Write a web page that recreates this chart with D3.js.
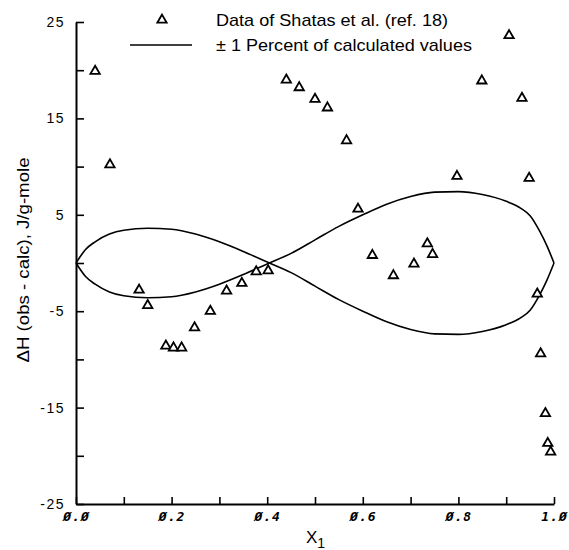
<!DOCTYPE html>
<html>
<head>
<meta charset="utf-8">
<script src="https://cdn.jsdelivr.net/npm/d3@7"></script>
<style>
  body { margin: 0; background: #fff; }
  svg { display: block; }
  .lbl { font-family: "Liberation Sans Narrow", "Liberation Sans", Arial, sans-serif; fill: #000; }
</style>
</head>
<body>
<div id="chart"></div>
<script>
// deviations of Shatas et al. data (x1, dH obs - calc)
var dataX = [0.040, 0.071, 0.132, 0.150, 0.188, 0.204, 0.221, 0.248, 0.281, 0.315,
             0.347, 0.377, 0.402, 0.440, 0.467, 0.500, 0.526, 0.566, 0.590, 0.620,
             0.664, 0.707, 0.735, 0.746, 0.797, 0.849, 0.906, 0.933, 0.948, 0.965,
             0.972, 0.982, 0.987, 0.993];
var dataY = [19.9, 10.2, -2.8, -4.4, -8.6, -8.8, -8.8, -6.7, -5.0, -2.9,
             -2.1, -0.9, -0.8, 19.0, 18.2, 17.0, 16.1, 12.7, 5.6, 0.8,
             -1.3, -0.1, 2.0, 0.9, 9.0, 18.9, 23.6, 17.1, 8.8, -3.2,
             -9.4, -15.6, -18.7, -19.6];

// 1 percent of calculated values
var curveX = [0, 0.02, 0.04, 0.07, 0.10, 0.15, 0.20, 0.25, 0.30, 0.35, 0.40, 0.45,
              0.50, 0.55, 0.60, 0.65, 0.70, 0.75, 0.80, 0.85, 0.90, 0.93, 0.95,
              0.97, 0.985, 1.0];
var curveY = [0, 1.4, 2.2, 3.0, 3.4, 3.6, 3.5, 3.0, 2.2, 1.2, 0.1, -1.0,
              -2.4, -3.8, -5.0, -6.1, -6.9, -7.35, -7.4, -7.1, -6.4, -5.7, -4.9,
              -3.3, -1.8, 0];

var xTicks = [0, 0.1, 0.2, 0.3, 0.4, 0.5, 0.6, 0.7, 0.8, 0.9, 1.0];
var xTickLabels = {"0": "Ø.Ø", "0.2": "Ø.2", "0.4": "Ø.4", "0.6": "Ø.6", "0.8": "Ø.8", "1": "1.Ø"};
var yTicks = [-25, -20, -15, -10, -5, 0, 5, 10, 15, 20, 25];
var yTickLabels = {"25": "25", "15": "15", "5": "5", "-5": "-5", "-15": "-15", "-25": "-25"};

var width = 569, height = 550;
var margin = {top: 22, right: 15, bottom: 46, left: 76};

var svg = d3.select("#chart").append("svg")
    .attr("width", width)
    .attr("height", height);

var x = d3.scaleLinear().domain([0, 1]).range([margin.left, width - margin.right]);
var y = d3.scaleLinear().domain([-25, 25]).range([height - margin.bottom, margin.top]);

// axes, ticks pointing inward
var xAxis = d3.axisBottom(x)
    .tickValues(xTicks)
    .tickSizeInner(-7)
    .tickSizeOuter(0)
    .tickPadding(8)
    .tickFormat(function(d) { return xTickLabels[String(+d.toFixed(1))] || ""; });

var yAxis = d3.axisLeft(y)
    .tickValues(yTicks)
    .tickSizeInner(-8)
    .tickSizeOuter(0)
    .tickPadding(11)
    .tickFormat(function(d) { return yTickLabels[String(d)] || ""; });

var gx = svg.append("g")
    .attr("transform", "translate(0," + y(-25) + ")")
    .call(xAxis);
gx.select(".domain").attr("stroke-width", 2);
gx.selectAll(".tick line").attr("stroke-width", 1.6);
gx.selectAll("text")
    .style("font-family", "'DejaVu Sans Mono', monospace")
    .style("font-weight", "bold")
    .style("font-style", "italic")
    .style("font-size", "13px")
    .style("letter-spacing", "1px")
    .attr("fill", "#000");

var gy = svg.append("g")
    .attr("transform", "translate(" + x(0) + ",0)")
    .call(yAxis);
gy.select(".domain").attr("stroke-width", 2);
gy.selectAll(".tick line").attr("stroke-width", 1.6);
gy.selectAll("text")
    .attr("class", "lbl")
    .style("font-size", "14px")
    .style("letter-spacing", "1.5px")
    .attr("fill", "#000");

// axis titles
var xt = svg.append("text")
    .attr("class", "lbl")
    .attr("x", 306)
    .attr("y", 543)
    .style("font-size", "17px");
xt.append("tspan").text("X");
xt.append("tspan").attr("dy", 5).style("font-size", "14px").text("1");

svg.append("text")
    .attr("class", "lbl")
    .attr("transform", "translate(23,260) rotate(-90)")
    .attr("text-anchor", "middle")
    .attr("dy", "0.35em")
    .attr("textLength", 205)
    .attr("lengthAdjust", "spacingAndGlyphs")
    .style("font-size", "16px")
    .text("ΔH (obs - calc), J/g-mole");

// +/- 1 percent curves
var curve = curveX.map(function(d, i) { return [d, curveY[i]]; });
var line = d3.line()
    .x(function(d) { return x(d[0]); })
    .y(function(d) { return y(d[1]); })
    .curve(d3.curveMonotoneX);

svg.append("path")
    .attr("d", line(curve))
    .attr("fill", "none").attr("stroke", "#000").attr("stroke-width", 1.6);
svg.append("path")
    .attr("d", line(curve.map(function(d) { return [d[0], -d[1]]; })))
    .attr("fill", "none").attr("stroke", "#000").attr("stroke-width", 1.6);

// triangles
var tri = d3.symbol().type(d3.symbolTriangle).size(38);
svg.selectAll(".pt")
    .data(dataX.map(function(d, i) { return [d, dataY[i]]; }))
    .enter().append("path")
    .attr("class", "pt")
    .attr("d", tri)
    .attr("transform", function(d) { return "translate(" + x(d[0]) + "," + y(d[1]) + ")"; })
    .attr("fill", "#fff")
    .attr("stroke", "#000")
    .attr("stroke-width", 1.8);

// legend
svg.append("path")
    .attr("d", tri)
    .attr("transform", "translate(162,20)")
    .attr("fill", "#fff").attr("stroke", "#000").attr("stroke-width", 1.8);
svg.append("line")
    .attr("x1", 130).attr("x2", 192)
    .attr("y1", 45).attr("y2", 45)
    .attr("stroke", "#000").attr("stroke-width", 1.6);
svg.append("text")
    .attr("class", "lbl")
    .attr("x", 216).attr("y", 26)
    .attr("textLength", 232)
    .attr("lengthAdjust", "spacingAndGlyphs")
    .style("font-size", "17px")
    .text("Data of Shatas et al. (ref. 18)");
svg.append("text")
    .attr("class", "lbl")
    .attr("x", 216).attr("y", 51)
    .attr("textLength", 256)
    .attr("lengthAdjust", "spacingAndGlyphs")
    .style("font-size", "17px")
    .text("± 1 Percent of calculated values");
</script>
</body>
</html>
